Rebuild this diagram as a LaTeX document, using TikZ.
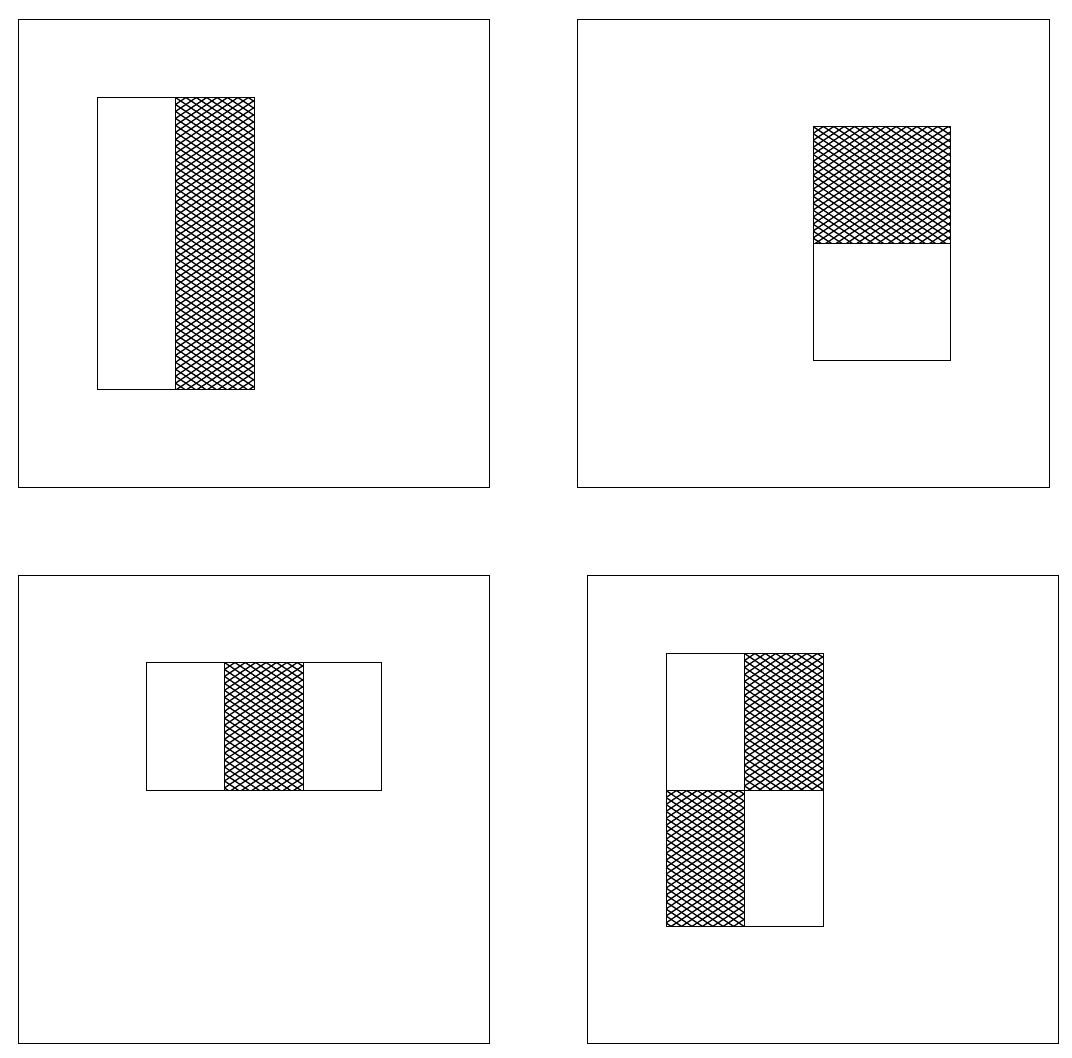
\documentclass[tikz,border=0pt]{standalone}
\usepackage{tikz}

% Schraffur: Rauten in einem Rechteck
\newcommand{\rauten}[4]{%
  \begin{scope}
    \clip (#1,#2) rectangle (#3,#4);
    \foreach \k in {-50,...,50} {
      \draw[hatch] (#1+\k*10.4-500,#2-335) -- ++(1000,670);
      \draw[hatch] (#1+\k*10.4+500,#2-335) -- ++(-1000,670);
    }
  \end{scope}
  \draw[box] (#1,#2) rectangle (#3,#4);
}

\begin{document}
\begin{tikzpicture}[x=1pt, y=-1pt,
    frame/.style={draw=black, line width=0.9pt},
    box/.style={draw=black, line width=0.9pt},
    hatch/.style={draw=black, line width=1.3pt}]
  \useasboundingbox (0,0) rectangle (1072,1058);
  % Rahmen der vier Felder
  \draw[frame] (18.5,19.5) rectangle (489.5,487.5);
  \draw[frame] (577.5,19.5) rectangle (1049,487.5);
  \draw[frame] (18.5,575.5) rectangle (489.5,1043.5);
  \draw[frame] (587.5,575.5) rectangle (1058.5,1043.5);
  % Feld oben links
  \draw[box] (97,97.5) rectangle (175.5,389.5);
  \rauten{175.5}{97.5}{254}{389.5}
  % Feld oben rechts
  \rauten{813}{126.5}{950}{243.5}
  \draw[box] (813,243.5) rectangle (950,360.5);
  % Feld unten links
  \draw[box] (146.5,662.5) rectangle (224.5,790.5);
  \rauten{224.5}{662.5}{303}{790.5}
  \draw[box] (303,662.5) rectangle (381.5,790.5);
  % Feld unten rechts
  \draw[box] (666,653.5) rectangle (744.5,790.5);
  \rauten{744.5}{653.5}{823}{790.5}
  \rauten{666}{790.5}{744.5}{926.5}
  \draw[box] (744.5,790.5) rectangle (823,926.5);
\end{tikzpicture}
\end{document}
